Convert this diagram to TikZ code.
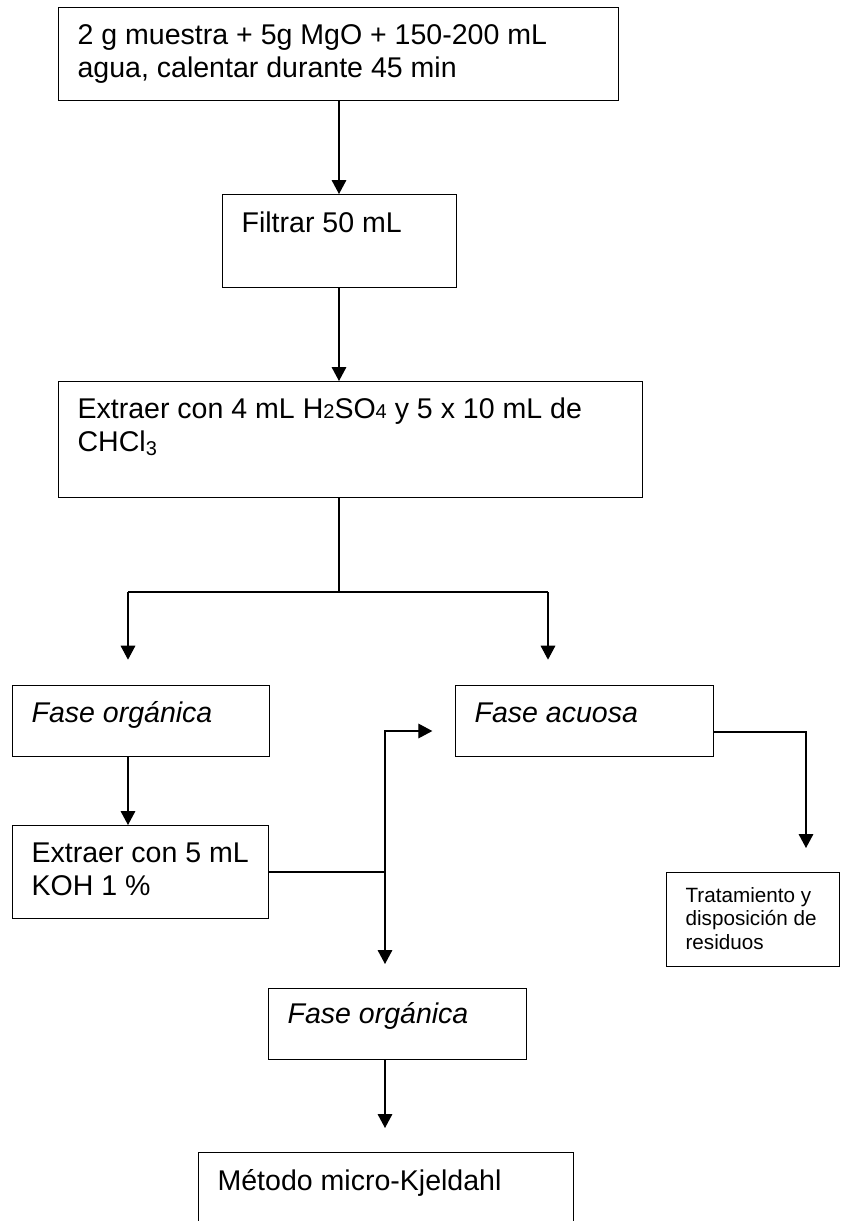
\documentclass[tikz,border=0pt]{standalone}
\usepackage{fontspec}
\setmainfont{Liberation Sans}
\usetikzlibrary{arrows.meta}
\newdimen\px \px=0.75pt
% #1 width, #2 height, #3 first-baseline offset, #4 text
\newcommand{\boxtext}[4]{\parbox[c][#2\px][t]{#1\px}{\raggedright\leftskip=19\px\rule{0pt}{#3\px}#4}}
\newcommand{\smalldig}[1]{{\fontsize{15pt}{15pt}\selectfont #1}}
\begin{document}
\begin{tikzpicture}[x=0.75pt,y=-0.75pt,line width=0.9pt,
  flowbox/.style={draw,line width=0.9pt,inner sep=0pt,anchor=north west,
    font=\fontsize{21.4pt}{24.6pt}\selectfont},
  smallbox/.style={flowbox,font=\fontsize{15.5pt}{17.5pt}\selectfont},
  arr/.style={-{Triangle[width=11pt,length=10.5pt]}},
  gap/.style={shorten >=18pt}]
\useasboundingbox (0,0) rectangle (841,1221);
\clip (0,0) rectangle (841,1221);

\node[flowbox] (A) at (58,7) {\boxtext{560}{93}{37}{2 g muestra + 5g MgO + 150-200 mL\\agua, calentar durante 45 min}};
\node[flowbox] (B) at (222,194) {\boxtext{234}{93}{38}{Filtrar 50 mL}};
\node[flowbox] (C) at (58,381) {\boxtext{584}{116}{37}{Extraer con 4 mL H\smalldig{2}SO\smalldig{4} y 5 x 10 mL de\\CHCl\textsubscript{3}}};
\node[flowbox] (D) at (12,685) {\boxtext{257}{71}{37}{\itshape Fase orgánica}};
\node[flowbox] (E) at (455,685) {\boxtext{258}{71}{37}{\itshape Fase acuosa}};
\node[flowbox] (F) at (12,825) {\boxtext{256}{93}{37}{Extraer con 5 mL\\KOH 1 \%}};
\node[smallbox] (G) at (666,872) {\boxtext{173}{94}{30}{Tratamiento y\\disposición de\\residuos}};
\node[flowbox] (H) at (268,988) {\boxtext{258}{71}{35}{\itshape Fase orgánica}};
\node[flowbox] (I) at (198,1152) {\boxtext{375}{95}{38}{Método micro-Kjeldahl}};

% main column
\coordinate (col) at (339,0);
\draw[arr] (A.south -| col) -- (B.north -| col);
\draw[arr] (B.south -| col) -- (C.north -| col);

% fork
\coordinate (fork) at (339,592);
\coordinate (fl) at (128,592);
\coordinate (fr) at (548,592);
\draw (C.south -| fork) -- (fork);
\draw (fl) -- (fr);
\draw[arr,shorten >=19pt] (fl) -- (fl |- D.north);
\draw[arr,shorten >=19pt] (fr) -- (fr |- E.north);

% organic phase -> KOH extraction
\draw[arr] (fl |- D.south) -- (fl |- F.north);

% junction from KOH box
\coordinate (j) at (385,872);
\coordinate (ju) at (385,731);
\draw (F.east |- j) -- (j);
\draw[arr,shorten >=17pt] (j) -- (ju) -- (ju -| E.west);
\draw[arr,gap] (j) -- (j |- H.north);

% aqueous phase -> treatment
\coordinate (eg) at (806,732);
\draw[arr,gap] (E.east |- eg) -- (eg) -- (eg |- G.north);

% organic phase -> Kjeldahl
\draw[arr,gap] (j |- H.south) -- (j |- I.north);
\end{tikzpicture}
\end{document}
